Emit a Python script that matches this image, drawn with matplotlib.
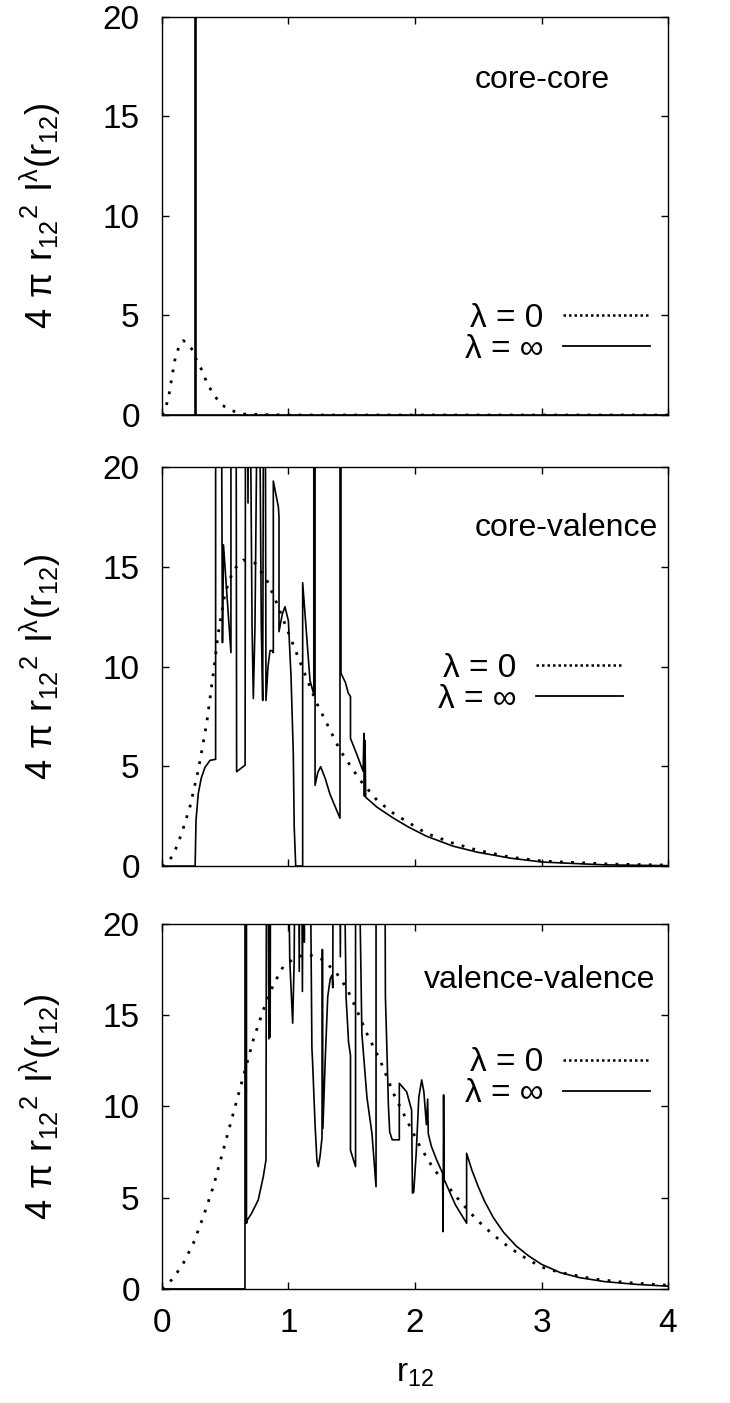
"""
Pair-distribution plots for lambda = 0 and lambda = infinity,
three stacked panels (core-core, core-valence, valence-valence).
Output: out.png
"""

import matplotlib
matplotlib.use("Agg")
import matplotlib.pyplot as plt
from matplotlib.lines import Line2D
import numpy as np

plt.rcParams["font.family"] = ["Liberation Sans", "DejaVu Sans"]
plt.rcParams["mathtext.default"] = "regular"
plt.rcParams["font.size"] = 22

R_TICKS = [0, 1, 2, 3, 4]
Y_TICKS = [0, 5, 10, 15, 20]
PANEL_NAMES = ["core-core", "core-valence", "valence-valence"]
LEGEND_LABELS = ["λ = 0", "λ = ∞"]
Y_LABEL = r"$4\ π\ r_{12}{}^{2}\ I^{λ}(r_{12})$"
X_LABEL = r"$r_{12}$"

# values above 20 are off the plotted range (clipped)
CC_LAM0 = [(0.0, 0.0), (0.024, 0.25), (0.053, 0.92), (0.079, 1.93), (0.105, 2.87),
           (0.135, 3.45), (0.168, 3.74), (0.21, 3.55), (0.245, 3.22), (0.263, 2.89),
           (0.31, 2.32), (0.356, 1.61), (0.41, 1.0), (0.474, 0.5), (0.55, 0.22),
           (0.65, 0.05), (0.8, 0.02), (1.0, 0.0), (2.0, 0.0), (3.0, 0.0), (4.0, 0.0)]
CC_LAMINF = [(0.0, 0.0), (0.258, 0.0), (0.258, 30.0), (0.268, 30.0), (0.268, 0.0),
             (4.0, 0.0)]

CV_LAM0 = [(0.0, 0.0), (0.024, 0.05), (0.09, 0.55), (0.156, 1.65), (0.221, 2.97),
           (0.287, 4.81), (0.353, 7.15), (0.406, 9.66), (0.445, 11.68), (0.498, 13.68),
           (0.564, 14.84), (0.643, 15.34), (0.735, 15.19), (0.828, 14.34), (0.907, 13.18),
           (1.012, 11.5), (1.117, 9.82), (1.223, 8.17), (1.407, 5.81), (1.565, 4.31),
           (1.7, 3.3), (1.83, 2.64), (2.09, 1.64), (2.3, 1.15), (2.49, 0.8), (2.75, 0.45),
           (3.01, 0.25), (3.54, 0.1), (4.0, 0.05)]
CV_LAMINF = [(0.0, 0.0), (0.262, 0.0), (0.269, 2.3), (0.287, 3.64), (0.31, 4.4),
             (0.34, 4.95), (0.38, 5.3), (0.424, 5.35), (0.424, 30.0), (0.466, 30.0),
             (0.478, 11.2), (0.486, 16.1), (0.545, 10.7), (0.545, 30.0), (0.585, 30.0),
             (0.59, 4.73), (0.657, 5.06), (0.661, 30.0), (0.672, 30.0), (0.68, 18.2),
             (0.686, 30.0), (0.70, 22.0), (0.712, 12.0), (0.722, 8.4), (0.735, 12.0),
             (0.75, 22.0), (0.765, 30.0), (0.785, 12.0), (0.796, 8.3), (0.805, 30.0),
             (0.815, 30.0), (0.822, 8.3), (0.838, 10.0), (0.854, 10.8), (0.87, 10.8),
             (0.88, 10.7), (0.88, 19.3), (0.92, 18.0), (0.925, 17.5), (0.925, 11.75),
             (0.95, 12.6), (0.972, 13.0), (0.999, 12.3), (1.02, 9.5), (1.038, 5.65),
             (1.045, 2.0), (1.057, 0.0), (1.112, 0.0), (1.112, 14.2), (1.144, 11.5),
             (1.17, 9.3), (1.20, 8.6), (1.20, 30.0), (1.21, 30.0), (1.21, 4.05),
             (1.232, 4.7), (1.254, 4.98), (1.29, 4.4), (1.328, 3.6), (1.407, 2.4),
             (1.407, 30.0), (1.415, 30.0), (1.415, 9.66), (1.45, 9.2), (1.473, 8.66),
             (1.49, 8.5), (1.49, 6.4), (1.54, 5.6), (1.59, 4.75), (1.596, 6.65),
             (1.60, 3.5), (1.605, 6.3), (1.61, 3.45), (1.7, 2.95), (1.83, 2.4),
             (1.95, 1.95), (2.09, 1.5), (2.3, 1.0), (2.49, 0.7), (2.75, 0.4),
             (3.01, 0.2), (3.5, 0.06), (4.0, 0.02)]

VV_LAM0 = [(0.0, 0.0), (0.01, 0.04), (0.09, 0.59), (0.169, 1.41), (0.248, 2.5),
           (0.327, 3.96), (0.406, 5.61), (0.485, 7.62), (0.564, 9.63), (0.643, 11.64),
           (0.722, 13.65), (0.801, 15.29), (0.88, 16.66), (0.959, 17.67), (1.065, 18.21),
           (1.17, 18.3), (1.275, 18.03), (1.38, 17.3), (1.46, 16.48), (1.539, 15.29),
           (1.618, 14.01), (1.723, 12.55), (1.829, 10.72), (1.934, 9.26), (2.04, 7.8),
           (2.145, 6.6), (2.25, 5.7), (2.356, 4.8), (2.487, 3.8), (2.62, 2.95),
           (2.75, 2.25), (2.883, 1.65), (3.0, 1.2), (3.146, 0.9), (3.41, 0.55),
           (3.673, 0.35), (4.0, 0.2)]
VV_LAMINF = [(0.0, 0.0), (0.656, 0.0), (0.656, 30.0), (0.668, 30.0), (0.668, 3.6),
             (0.675, 3.78), (0.709, 4.15), (0.761, 4.88), (0.801, 6.16), (0.822, 7.07),
             (0.827, 30.0), (0.835, 30.0), (0.845, 13.7), (0.85, 30.0), (0.855, 13.8),
             (0.86, 30.0), (0.99, 30.0), (1.01, 18.0), (1.033, 14.56), (1.045, 18.0),
             (1.055, 30.0), (1.075, 30.0), (1.085, 17.4), (1.09, 30.0), (1.10, 30.0),
             (1.11, 16.3), (1.118, 30.0), (1.125, 19.0), (1.13, 30.0), (1.165, 30.0),
             (1.185, 13.2), (1.19, 12.5), (1.21, 9.0), (1.225, 7.0), (1.236, 6.7),
             (1.25, 7.3), (1.265, 8.3), (1.268, 18.6), (1.272, 8.8), (1.29, 12.5),
             (1.31, 16.0), (1.33, 17.0), (1.345, 17.2), (1.35, 16.5), (1.355, 30.0),
             (1.40, 30.0), (1.41, 18.2), (1.415, 30.0), (1.43, 30.0), (1.455, 16.0),
             (1.475, 13.5), (1.49, 12.8), (1.49, 7.6), (1.53, 6.7), (1.53, 30.0),
             (1.545, 30.0), (1.58, 14.0), (1.62, 10.5), (1.66, 8.5), (1.692, 5.6),
             (1.692, 30.0), (1.76, 30.0), (1.766, 16.0), (1.776, 13.6), (1.79, 10.0),
             (1.80, 8.6), (1.82, 8.17), (1.876, 8.17), (1.876, 11.27), (1.934, 10.8),
             (1.973, 9.8), (1.98, 5.25), (1.99, 5.3), (2.01, 7.5), (2.03, 10.5),
             (2.053, 11.45), (2.07, 10.8), (2.09, 9.0), (2.10, 10.4), (2.105, 8.5),
             (2.13, 7.8), (2.171, 7.07), (2.218, 6.34), (2.222, 3.14), (2.226, 10.63),
             (2.23, 6.0), (2.32, 4.6), (2.408, 3.6), (2.408, 7.43), (2.45, 6.5),
             (2.5, 5.6), (2.55, 4.8), (2.62, 3.9), (2.7, 3.1), (2.8, 2.35), (2.9, 1.8),
             (3.0, 1.35), (3.146, 0.9), (3.3, 0.62), (3.5, 0.4), (3.75, 0.25), (4.0, 0.15)]

PANELS = [(CC_LAM0, CC_LAMINF), (CV_LAM0, CV_LAMINF), (VV_LAM0, VV_LAMINF)]

# layout (figure fractions) and text/legend placement (axes fractions)
AX_RECTS = [[0.2219, 0.7042, 0.6932, 0.2837],
            [0.2219, 0.3827, 0.6932, 0.2844],
            [0.2219, 0.0813, 0.6932, 0.2602]]
NAME_POS = [(0.885, 0.842), (0.980, 0.847), (0.974, 0.847)]
LEGEND_POS = [(0.964, 0.2035), (0.911, 0.456), (0.964, 0.5767)]

DOT_STYLE = (0, (1, 3))

fig = plt.figure(figsize=(7.30, 14.03), dpi=100)

for i, (lam0, laminf) in enumerate(PANELS):
    ax = fig.add_axes(AX_RECTS[i])
    x0, y0 = np.array(lam0).T
    x1, y1 = np.array(laminf).T
    ax.plot(x0, y0, color="black", linestyle=DOT_STYLE, linewidth=2.0)
    ax.plot(x1, y1, color="black", linestyle="-", linewidth=1.2)

    ax.set_xlim(0, 4)
    ax.set_ylim(0, 20)
    ax.set_xticks(R_TICKS)
    ax.set_yticks(Y_TICKS)
    ax.tick_params(direction="in", top=True, right=True, length=5, width=1.0,
                   labelsize=24)
    ax.tick_params(axis="y", pad=16)
    ax.tick_params(axis="x", pad=14)
    for sp in ax.spines.values():
        sp.set_linewidth(1.0)

    if i < 2:
        ax.tick_params(labelbottom=False)
    else:
        ax.set_xlabel(X_LABEL, fontsize=24)
        ax.xaxis.set_label_coords(0.5, -0.19)

    ax.set_ylabel(Y_LABEL, fontsize=26)
    ax.yaxis.set_label_coords(-0.195, 0.5)

    ax.text(NAME_POS[i][0], NAME_POS[i][1], PANEL_NAMES[i], transform=ax.transAxes,
            ha="right", va="center", fontsize=23)

    handles = [Line2D([], [], color="black", linestyle=(0, (1, 1.2)), linewidth=1.8),
               Line2D([], [], color="black", linestyle="-", linewidth=1.3)]
    ax.legend(handles, LEGEND_LABELS, loc="center right",
              bbox_to_anchor=LEGEND_POS[i], frameon=False, markerfirst=False,
              handlelength=2.6, handletextpad=0.6, labelspacing=0.0,
              borderpad=0, borderaxespad=0, fontsize=24)

fig.savefig("out.png", dpi=100)
plt.close(fig)
